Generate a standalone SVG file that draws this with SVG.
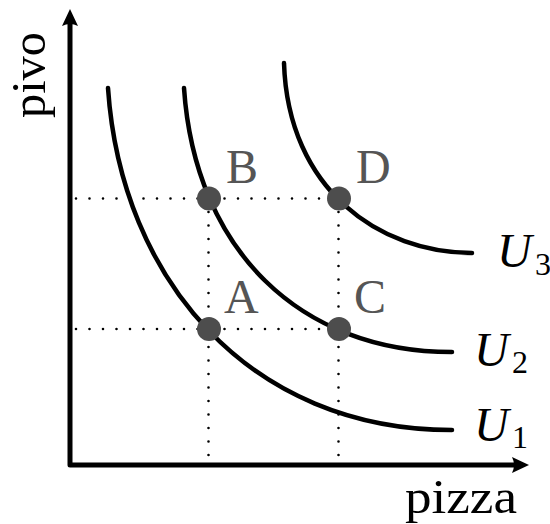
<svg xmlns="http://www.w3.org/2000/svg" width="550" height="524" viewBox="0 0 550 524">
<style>
.axis{stroke:#000;stroke-width:5;fill:none;stroke-linecap:round}
.curve{stroke:#000;stroke-width:4.5;fill:none;stroke-linecap:round}
.dotted{stroke:#000;stroke-width:2.6;stroke-dasharray:0 13.5;stroke-linecap:round;fill:none}
.pt{fill:#4d4d4d}
.lbl{font-family:"Liberation Serif",serif;font-size:48px;fill:#555}
.ax{font-family:"Liberation Serif",serif;font-size:48px;fill:#000}
.u{font-family:"Liberation Serif",serif;font-style:italic;font-size:48px;fill:#000}
.sub{font-family:"Liberation Serif",serif;font-size:32px;fill:#000}
</style>
<rect width="550" height="524" fill="#fff"/>
<g id="connectors">
<path class="dotted" d="M76,198.5 H339 M76,329 H339 M208.5,212 V458 M338.5,212 V458"/>
</g>
<g id="axes">
<path class="axis" d="M70,465 V24 M70,465 H514"/>
<path d="M70,9 L78,26 Q70,22 62,26 Z" fill="#000"/>
<path d="M529,465 L512,457 Q516,465 512,473 Z" fill="#000"/>
<text class="ax" x="405" y="513" textLength="112" lengthAdjust="spacingAndGlyphs">pizza</text>
<text class="ax" transform="translate(45,118) rotate(-90)" textLength="86" lengthAdjust="spacingAndGlyphs">pivo</text>
</g>
<g id="U1">
<path class="curve" d="M108,88 C121,280 250,430 452,430"/>
<text class="u" x="474" y="441">U</text><text class="sub" x="512" y="448">1</text>
</g>
<g id="U2">
<path class="curve" d="M184,88 C195,250 300,352 452,352"/>
<text class="u" x="474" y="366">U</text><text class="sub" x="512" y="373">2</text>
</g>
<g id="U3">
<path class="curve" d="M284,63 C288,190 380,253 472,253"/>
<text class="u" x="497" y="267">U</text><text class="sub" x="535" y="275">3</text>
</g>
<g id="A"><circle class="pt" cx="209" cy="329" r="12"/><text class="lbl" x="224" y="313">A</text></g>
<g id="B"><circle class="pt" cx="209" cy="198.5" r="12"/><text class="lbl" x="226" y="183">B</text></g>
<g id="C"><circle class="pt" cx="339" cy="329" r="12"/><text class="lbl" x="354" y="313">C</text></g>
<g id="D"><circle class="pt" cx="339" cy="198.5" r="12"/><text class="lbl" x="356" y="183">D</text></g>
</svg>
